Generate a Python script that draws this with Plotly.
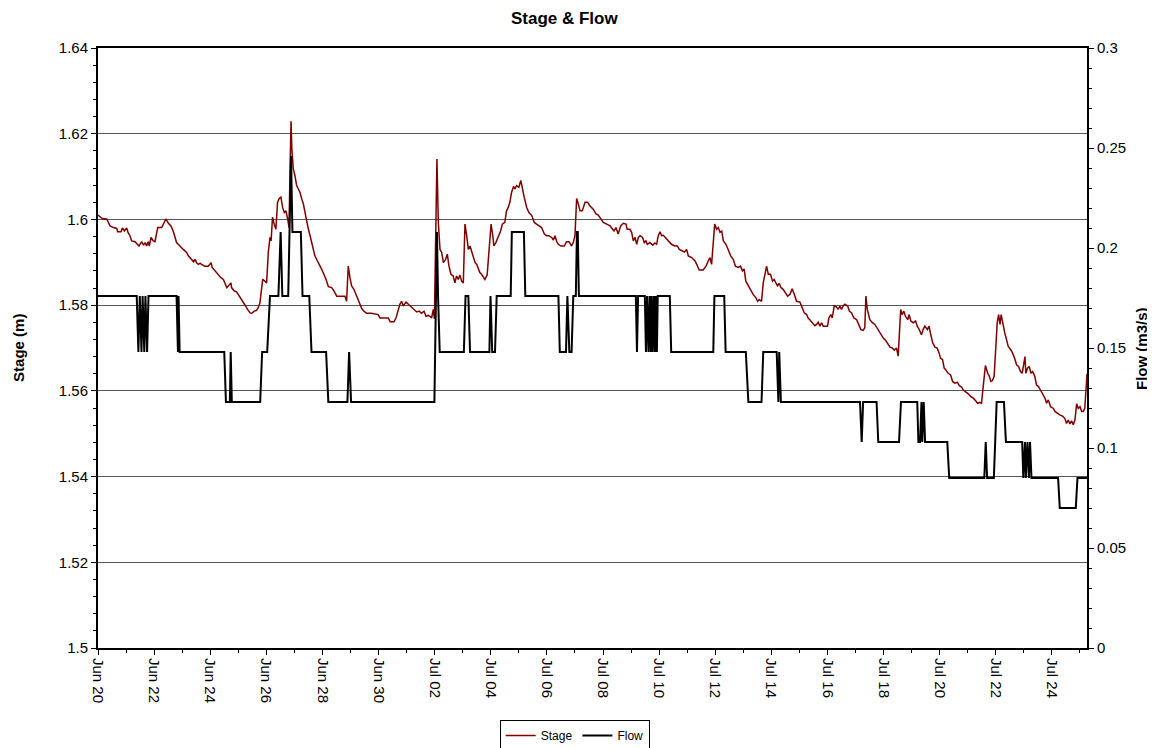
import pandas as pd
import plotly.graph_objects as go

START = pd.Timestamp("2008-06-20")

# Stage (m): time in days after Jun 20 00:00, value in metres
stage_day = [
    0.00, 0.15, 0.31, 0.43, 0.55, 0.67, 0.70, 0.82, 0.87, 0.94, 1.02, 1.08, 1.14, 1.20, 1.32, 1.41,
    1.46, 1.56, 1.62, 1.68, 1.73, 1.79, 1.83, 1.89, 1.97, 2.03, 2.13, 2.27, 2.36, 2.42, 2.51, 2.60,
    2.68, 2.74, 2.80, 2.86, 2.92, 2.98, 3.04, 3.10, 3.16, 3.22, 3.28, 3.34, 3.41, 3.46, 3.52, 3.58,
    3.64, 3.69, 3.81, 3.93, 4.03, 4.07, 4.17, 4.29, 4.38, 4.47, 4.53, 4.59, 4.65, 4.74, 4.76, 4.86,
    4.94, 5.00, 5.06, 5.12, 5.18, 5.26, 5.33, 5.42, 5.48, 5.57, 5.65, 5.71, 5.77,
    5.83, 5.87, 5.95, 6.01, 6.07, 6.13, 6.17, 6.22, 6.28, 6.34, 6.40, 6.46, 6.52, 6.58, 6.64, 6.70,
    6.76, 6.81, 6.84, 6.88, 6.91, 6.96, 7.02, 7.08, 7.14, 7.20, 7.26, 7.32, 7.38, 7.44, 7.50, 7.56,
    7.61, 7.67, 7.73, 7.79, 7.89, 7.97, 8.05, 8.13, 8.21, 8.33, 8.41, 8.51, 8.68, 8.80, 8.86, 8.92,
    8.98, 9.04, 9.12, 9.22, 9.31, 9.40, 9.48, 9.57, 9.75, 9.99, 10.05, 10.35, 10.41, 10.55, 10.62,
    10.70, 10.76, 10.82, 10.88, 10.98, 11.06, 11.18, 11.26, 11.36, 11.45, 11.53, 11.62, 11.69, 11.77,
    11.83, 11.89, 11.95, 11.99, 12.05, 12.08, 12.13, 12.19, 12.25, 12.31, 12.39, 12.45, 12.51, 12.58,
    12.66, 12.72, 12.78, 12.84, 12.90, 12.96, 13.02, 13.08, 13.14, 13.20, 13.26, 13.32, 13.38, 13.44,
    13.50, 13.55, 13.61, 13.67, 13.73, 13.79, 13.87, 13.95, 14.01, 14.07, 14.11, 14.18, 14.27, 14.35,
    14.41, 14.50, 14.56, 14.62, 14.68, 14.74, 14.81, 14.86, 14.92, 15.00, 15.07, 15.12, 15.19, 15.28,
    15.36, 15.46, 15.55, 15.63, 15.72, 15.81, 15.91, 15.99, 16.07, 16.17, 16.23, 16.29, 16.35, 16.41,
    16.50, 16.62, 16.70, 16.79, 16.88, 16.94, 17.00, 17.06, 17.12, 17.18, 17.26, 17.36, 17.45,
    17.53, 17.65, 17.75, 17.83, 17.91, 18.01, 18.13, 18.25, 18.34, 18.39, 18.46, 18.54, 18.63, 18.72,
    18.82, 18.86, 18.96, 19.02, 19.08, 19.14, 19.20, 19.26, 19.32, 19.41, 19.47, 19.53, 19.58, 19.67,
    19.77, 19.85, 19.91, 19.97, 20.03, 20.09, 20.15, 20.27, 20.36, 20.44, 20.56, 20.65, 20.72, 20.80,
    20.90, 20.98, 21.04, 21.16, 21.28, 21.34, 21.43, 21.57, 21.67, 21.75, 21.81, 21.87, 21.93, 21.98,
    22.05, 22.11, 22.17, 22.23, 22.29, 22.38, 22.46, 22.55, 22.64, 22.72, 22.82, 22.90, 22.97, 23.03,
    23.09, 23.18, 23.26, 23.35, 23.45, 23.51, 23.57,
    23.65, 23.71, 23.77, 23.83, 23.89, 23.97, 24.04, 24.10, 24.16, 24.22, 24.28, 24.34, 24.42, 24.51,
    24.58, 24.66, 24.74, 24.82, 24.90, 25.02, 25.10, 25.17, 25.26, 25.31, 25.37, 25.46, 25.55, 25.61,
    25.67, 25.73, 25.79, 25.85, 26.00, 26.05, 26.12, 26.17, 26.24, 26.32, 26.38, 26.44, 26.50, 26.56,
    26.62, 26.72, 26.78, 26.86, 26.94, 27.04, 27.10, 27.19, 27.27, 27.33, 27.37, 27.42, 27.51, 27.60,
    27.69, 27.76, 27.83, 27.90, 27.99, 28.07, 28.14, 28.23, 28.31, 28.38, 28.46, 28.52, 28.61, 28.66,
    28.72, 28.78, 28.86, 28.91, 28.97, 29.06, 29.14, 29.20, 29.27, 29.35,
    29.41, 29.47, 29.56, 29.62, 29.67, 29.75, 29.83, 29.91, 29.98, 30.03, 30.10, 30.16, 30.22, 30.30,
    30.39, 30.46, 30.54, 30.63, 30.70, 30.78, 30.84, 30.93, 31.02, 31.10, 31.20, 31.28, 31.35, 31.43,
    31.49, 31.55, 31.63, 31.71, 31.77, 31.82, 31.88, 31.94, 32.00, 32.05, 32.10, 32.15, 32.19, 32.26,
    32.32, 32.38, 32.44, 32.53, 32.60, 32.67, 32.74, 32.81, 32.88, 32.94, 33.00, 33.04, 33.07, 33.13,
    33.19, 33.25, 33.31, 33.39, 33.45, 33.52, 33.59, 33.67, 33.75, 33.81, 33.87, 33.95, 34.05, 34.11,
    34.19, 34.28, 34.38, 34.46, 34.52, 34.58, 34.64, 34.70, 34.76, 34.82, 34.88, 34.94, 35.00, 35.06,
    35.12, 35.17, 35.23, 35.25,
]
stage_m = [
    1.6010, 1.6002, 1.6001, 1.5985, 1.5981, 1.5979, 1.5971, 1.5971, 1.5980, 1.5973, 1.5980, 1.5968, 1.5962, 1.5950, 1.5948, 1.5942,
    1.5938, 1.5948, 1.5940, 1.5946, 1.5938, 1.5948, 1.5938, 1.5958, 1.5950, 1.5948, 1.5981, 1.5981, 1.5993, 1.6001, 1.5991, 1.5985,
    1.5973, 1.5962, 1.5946, 1.5942, 1.5937, 1.5934, 1.5930, 1.5927, 1.5923, 1.5915, 1.5911, 1.5905, 1.5901, 1.5907, 1.5898, 1.5895,
    1.5898, 1.5895, 1.5891, 1.5891, 1.5899, 1.5888, 1.5880, 1.5872, 1.5864, 1.5860, 1.5852, 1.5841, 1.5845, 1.5852, 1.5841, 1.5833,
    1.5831, 1.5825, 1.5821, 1.5813, 1.5806, 1.5798, 1.5790, 1.5782, 1.5781, 1.5786, 1.5788, 1.5794, 1.5805,
    1.5837, 1.5860, 1.5856, 1.5852, 1.5923, 1.5958, 1.5950, 1.6005, 1.5989, 1.5977, 1.6040, 1.6049, 1.6052, 1.6028, 1.6016, 1.6020,
    1.6001, 1.5981, 1.6102, 1.6229, 1.6165, 1.6118, 1.6102, 1.6079, 1.6071, 1.6063, 1.6048, 1.6036, 1.6016, 1.5993, 1.5977, 1.5962,
    1.5946, 1.5930, 1.5915, 1.5907, 1.5895, 1.5884, 1.5872, 1.5860, 1.5843, 1.5841, 1.5833, 1.5821, 1.5821, 1.5821, 1.5809, 1.5891,
    1.5864, 1.5845, 1.5837, 1.5821, 1.5802, 1.5792, 1.5786, 1.5781, 1.5781, 1.5778, 1.5770, 1.5770, 1.5761, 1.5761, 1.5770,
    1.5790, 1.5802, 1.5809, 1.5798, 1.5807, 1.5802, 1.5794, 1.5788, 1.5784, 1.5786, 1.5781, 1.5786, 1.5774, 1.5776,
    1.5774, 1.5770, 1.5790, 1.5768, 1.6001, 1.6141, 1.5993, 1.5930, 1.5923, 1.5899, 1.5907, 1.5919, 1.5891, 1.5872,
    1.5868, 1.5852, 1.5868, 1.5860, 1.5870, 1.5856, 1.5852, 1.5989, 1.5962, 1.5930, 1.5938, 1.5923, 1.5911, 1.5899,
    1.5895, 1.5884, 1.5876, 1.5872, 1.5864, 1.5860, 1.5870, 1.5946, 1.5989, 1.5962, 1.5938, 1.5946, 1.5962, 1.5973,
    1.5989, 1.5993, 1.6020, 1.6028, 1.6040, 1.6063, 1.6077, 1.6071, 1.6079, 1.6075, 1.6091, 1.6071, 1.6052, 1.6028,
    1.6016, 1.6009, 1.5993, 1.5989, 1.5985, 1.5981, 1.5966, 1.5962, 1.5962, 1.5958, 1.5952, 1.5962, 1.5948, 1.5942,
    1.5938, 1.5938, 1.5948, 1.5948, 1.5938, 1.5946, 1.5962, 1.6049, 1.6036, 1.6020, 1.6020, 1.6040, 1.6040,
    1.6032, 1.6024, 1.6013, 1.6010, 1.6001, 1.5993, 1.5989, 1.5985, 1.5977, 1.5973, 1.5981, 1.5966, 1.5985, 1.5991,
    1.5989, 1.5977, 1.5977, 1.5970, 1.5950, 1.5958, 1.5942, 1.5958, 1.5962, 1.5958, 1.5946, 1.5950, 1.5942, 1.5946,
    1.5940, 1.5945, 1.5942, 1.5962, 1.5971, 1.5962, 1.5963, 1.5954, 1.5946, 1.5942, 1.5938, 1.5938, 1.5930, 1.5927,
    1.5924, 1.5930, 1.5915, 1.5911, 1.5903, 1.5895, 1.5882, 1.5882, 1.5891, 1.5903, 1.5911, 1.5895, 1.5946, 1.5989,
    1.5977, 1.5981, 1.5970, 1.5973, 1.5950, 1.5942, 1.5930, 1.5915, 1.5907, 1.5891, 1.5888, 1.5891, 1.5880, 1.5884,
    1.5856, 1.5845, 1.5837, 1.5825, 1.5817, 1.5809, 1.5813,
    1.5809, 1.5852, 1.5868, 1.5891, 1.5872, 1.5872, 1.5856, 1.5860, 1.5852, 1.5845, 1.5851, 1.5841, 1.5837, 1.5829,
    1.5821, 1.5825, 1.5838, 1.5825, 1.5809, 1.5807, 1.5794, 1.5782, 1.5778, 1.5770, 1.5766, 1.5759, 1.5752, 1.5755,
    1.5760, 1.5751, 1.5759, 1.5751, 1.5751, 1.5770, 1.5778, 1.5770, 1.5798, 1.5796, 1.5790, 1.5798, 1.5790, 1.5798,
    1.5802, 1.5798, 1.5786, 1.5782, 1.5770, 1.5766, 1.5755, 1.5743, 1.5741, 1.5747, 1.5821, 1.5790, 1.5766, 1.5759,
    1.5755, 1.5747, 1.5739, 1.5731, 1.5723, 1.5718, 1.5712, 1.5702, 1.5700, 1.5695, 1.5700, 1.5681, 1.5790, 1.5778,
    1.5786, 1.5774, 1.5766, 1.5778, 1.5763, 1.5759, 1.5763, 1.5751, 1.5743, 1.5731,
    1.5743, 1.5751, 1.5743, 1.5751, 1.5735, 1.5712, 1.5702, 1.5700, 1.5688, 1.5676, 1.5673, 1.5653, 1.5649, 1.5641,
    1.5637, 1.5622, 1.5618, 1.5620, 1.5612, 1.5609, 1.5602, 1.5598, 1.5593, 1.5587, 1.5583, 1.5577, 1.5571, 1.5573,
    1.5571, 1.5610, 1.5659, 1.5641, 1.5634, 1.5622, 1.5624, 1.5634, 1.5696, 1.5759, 1.5778, 1.5755, 1.5778, 1.5751,
    1.5735, 1.5720, 1.5704, 1.5696, 1.5688, 1.5676, 1.5661, 1.5657, 1.5645, 1.5641, 1.5665, 1.5680, 1.5641, 1.5653,
    1.5657, 1.5641, 1.5645, 1.5634, 1.5614, 1.5610, 1.5602, 1.5594, 1.5583, 1.5571, 1.5579, 1.5563, 1.5559, 1.5552,
    1.5548, 1.5544, 1.5541, 1.5536, 1.5524, 1.5532, 1.5523, 1.5530, 1.5521, 1.5532, 1.5570, 1.5559, 1.5563, 1.5552,
    1.5552, 1.5559, 1.5618, 1.5640,
]

# Flow (m3/s): time in days after Jun 20 00:00, value
flow_day = [
    0.00, 1.38, 1.44, 1.49, 1.55, 1.59, 1.65, 1.69, 1.75, 1.80, 2.80, 2.85, 2.87, 2.91, 4.50, 4.56,
    4.70, 4.73, 4.77, 5.78, 5.85, 6.03, 6.13, 6.43, 6.51, 6.57, 6.78, 6.88, 6.93, 7.23, 7.29, 7.53,
    7.61, 8.13, 8.21, 8.89, 8.95, 9.02, 11.99, 12.04, 12.08, 12.12, 12.18, 13.04, 13.10, 13.20, 13.26,
    13.95, 13.99, 14.05, 14.15, 14.21, 14.71, 14.75, 15.18, 15.23, 16.41, 16.46, 16.68, 16.73, 16.80,
    16.88, 16.94, 17.03, 17.07, 17.10, 17.14, 19.17, 19.21, 19.25, 19.49, 19.53, 19.57, 19.62, 19.66,
    19.70, 19.73, 19.77, 19.81, 19.85, 19.88, 19.92, 19.95, 20.38, 20.43, 21.93, 21.97, 22.32, 22.37,
    23.09, 23.18, 23.65, 23.71, 24.19, 24.25, 24.28, 24.34, 27.16, 27.22, 27.27, 27.75, 27.81, 28.55,
    28.62, 29.20, 29.24, 29.30, 29.35, 29.38, 29.43, 29.48, 30.27, 30.34, 31.59, 31.64, 31.69, 31.93,
    32.03, 32.29, 32.36, 32.94, 32.98, 33.04, 33.07, 33.13, 33.18, 33.22, 33.27, 34.22, 34.28, 34.85,
    34.91, 35.25,
]
flow_m3s = [
    0.176, 0.176, 0.148, 0.176, 0.148, 0.176, 0.148, 0.176, 0.148, 0.176, 0.176, 0.148, 0.176, 0.148, 0.148, 0.123,
    0.123, 0.148, 0.123, 0.123, 0.148, 0.148, 0.176, 0.176, 0.208, 0.176, 0.176, 0.246, 0.208, 0.208, 0.176, 0.176,
    0.148, 0.148, 0.123, 0.123, 0.148, 0.123, 0.123, 0.176, 0.208, 0.176, 0.148, 0.148, 0.176, 0.176, 0.148,
    0.148, 0.176, 0.148, 0.148, 0.176, 0.176, 0.208, 0.208, 0.176, 0.176, 0.148, 0.148, 0.176, 0.148,
    0.148, 0.176, 0.176, 0.208, 0.208, 0.176, 0.176, 0.148, 0.176, 0.176, 0.148, 0.176, 0.148, 0.176,
    0.148, 0.176, 0.148, 0.176, 0.148, 0.176, 0.148, 0.176, 0.176, 0.148, 0.148, 0.176, 0.176, 0.148,
    0.148, 0.123, 0.123, 0.148, 0.148, 0.123, 0.148, 0.123, 0.123, 0.103, 0.123, 0.123, 0.103, 0.103,
    0.123, 0.123, 0.103, 0.103, 0.123, 0.103, 0.123, 0.103, 0.103, 0.085, 0.085, 0.103, 0.085, 0.085,
    0.123, 0.123, 0.103, 0.103, 0.085, 0.103, 0.085, 0.103, 0.085, 0.103, 0.085, 0.085, 0.070, 0.070,
    0.085, 0.085,
]

X_END_DAYS = 35.25

stage_dates = START + pd.to_timedelta(stage_day, unit="D")
flow_dates = START + pd.to_timedelta(flow_day, unit="D")

FONT = "Liberation Sans, Arial, sans-serif"
DAY_MS = 86400000
FIG_W, FIG_H = 1147, 740  # page body adds an 8px margin
TICK_FONT = dict(family=FONT, size=15, color="black")

fig = go.Figure()
fig.add_trace(go.Scatter(x=stage_dates, y=stage_m, name="Stage", mode="lines",
                         line=dict(color="#800000", width=1.5), yaxis="y"))
fig.add_trace(go.Scatter(x=flow_dates, y=flow_m3s, name="Flow", mode="lines",
                         line=dict(color="#000000", width=2), yaxis="y2"))

fig.update_layout(
    template="none",
    width=FIG_W, height=FIG_H,
    margin=dict(l=90, r=68, t=40, b=100),
    paper_bgcolor="white", plot_bgcolor="white",
    font=dict(family=FONT, size=14, color="black"),
    title=dict(text="<b>Stage &amp; Flow</b>", x=0.485, xref="container", xanchor="center",
               y=1 - 10 / FIG_H, yref="container", yanchor="middle",
               font=dict(family=FONT, size=17, color="black")),
    showlegend=True,
    legend=dict(orientation="h", x=0.482, xanchor="center",
                y=28 / FIG_H, yref="container", yanchor="top",
                bordercolor="black", borderwidth=1, bgcolor="white",
                font=dict(family=FONT, size=12, color="black"),
                traceorder="normal"),
    xaxis=dict(
        type="date",
        range=[START, START + pd.Timedelta(days=X_END_DAYS)],
        tick0=START, dtick=2 * DAY_MS, tickformat="%b %d", tickangle=90,
        ticks="outside", ticklen=5, tickwidth=1, tickcolor="black",
        showline=True, linecolor="black", linewidth=2, mirror=True,
        showgrid=False, zeroline=False, automargin=False,
        minor=dict(dtick=DAY_MS, ticks="outside", ticklen=3, tickcolor="black", showgrid=False),
        tickfont=TICK_FONT,
    ),
    yaxis=dict(
        range=[1.5, 1.64], tick0=1.5, dtick=0.02,
        ticks="outside", ticklen=5, tickwidth=1, tickcolor="black",
        showline=True, linecolor="black", linewidth=2,
        showgrid=True, gridcolor="#555555", gridwidth=1, zeroline=False, automargin=False,
        minor=dict(dtick=0.004, ticks="outside", ticklen=3, tickcolor="black", showgrid=False),
        tickfont=TICK_FONT,
    ),
    yaxis2=dict(
        overlaying="y", side="right",
        range=[0, 0.3], tick0=0, dtick=0.05,
        ticks="outside", ticklen=5, tickwidth=1, tickcolor="black",
        showline=True, linecolor="black", linewidth=2,
        showgrid=False, zeroline=False, automargin=False,
        minor=dict(dtick=0.01, ticks="outside", ticklen=3, tickcolor="black", showgrid=False),
        tickfont=TICK_FONT,
    ),
    annotations=[
        dict(text="<b>Stage (m)</b>", xref="paper", yref="paper", x=-0.081, y=0.5,
             xanchor="center", yanchor="middle", textangle=-90, showarrow=False,
             font=dict(family=FONT, size=15, color="black")),
        dict(text="<b>Flow (m3/s)</b>", xref="paper", yref="paper", x=1.0546, y=0.5,
             xanchor="center", yanchor="middle", textangle=-90, showarrow=False,
             font=dict(family=FONT, size=15, color="black")),
    ],
)

fig.write_html("out.html")
